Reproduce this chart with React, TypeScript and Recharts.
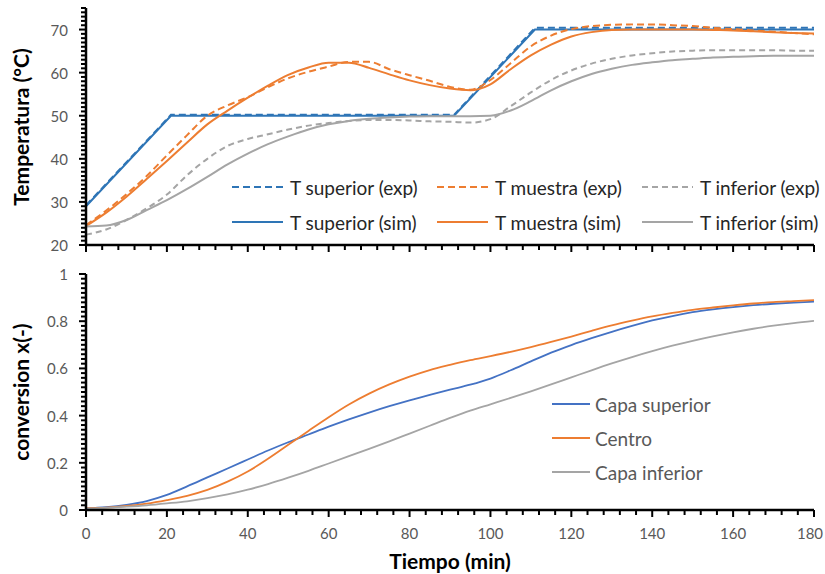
import React from 'react';
import { LineChart, Line, XAxis, YAxis } from 'recharts';

const FONT = 'Lato, "Open Sans", sans-serif';
const BLUE_T = '#2E75B6';
const BLUE_C = '#4472C4';
const ORANGE = '#ED7D31';
const GRAY = '#A5A5A5';

// ---------- data ----------
const timeMin = [0, 5, 10, 15, 20, 25, 30, 35, 40, 45, 50, 55, 60, 65, 70, 75, 80, 85, 90, 95, 100, 105, 110, 115, 120, 125, 130, 135, 140, 145, 150, 155, 160, 165, 170, 175, 180];

const tSupTime = [0, 21, 91, 111, 180];
const tSuperiorExp = [29.2, 50.2, 50.2, 70.4, 70.4];
const tSuperiorSim = [29.0, 50.0, 50.0, 70.0, 70.0];

const tMuestraExp = [24.6, 28.0, 31.8, 36.0, 40.8, 45.5, 50.0, 52.4, 54.3, 56.6, 58.7, 60.2, 61.4, 62.5, 62.5, 60.8, 59.4, 58.1, 56.7, 56.0, 58.3, 62.2, 66.1, 68.6, 70.1, 70.8, 71.1, 71.2, 71.2, 71.0, 70.8, 70.4, 70.1, 69.8, 69.5, 69.2, 68.9];
const tMuestraSim = [24.4, 27.5, 31.2, 35.3, 39.5, 43.8, 48.0, 51.2, 54.2, 57.0, 59.5, 61.2, 62.3, 62.3, 61.1, 59.6, 58.2, 57.1, 56.3, 55.9, 57.3, 60.8, 64.0, 66.5, 68.4, 69.4, 69.9, 70.0, 70.0, 70.0, 70.0, 69.9, 69.8, 69.6, 69.4, 69.2, 69.1];
const tInferiorExp = [22.4, 23.6, 25.8, 28.5, 31.7, 36.2, 40.0, 43.0, 44.6, 45.7, 46.8, 47.7, 48.3, 48.8, 49.0, 49.0, 48.9, 48.7, 48.6, 48.4, 49.2, 52.2, 55.4, 58.3, 60.5, 62.1, 63.2, 64.0, 64.5, 64.9, 65.1, 65.2, 65.2, 65.2, 65.2, 65.1, 65.1];
const tInferiorSim = [24.3, 24.5, 25.8, 28.1, 30.4, 33.0, 35.8, 38.7, 41.2, 43.4, 45.2, 46.8, 48.0, 48.8, 49.3, 49.6, 49.8, 49.9, 49.9, 49.9, 50.0, 51.2, 53.4, 55.9, 58.0, 59.7, 60.9, 61.8, 62.4, 62.9, 63.2, 63.5, 63.7, 63.8, 63.9, 63.9, 63.9];

const convSuperior = [0.007, 0.012, 0.022, 0.038, 0.064, 0.1, 0.138, 0.176, 0.214, 0.252, 0.287, 0.32, 0.353, 0.384, 0.413, 0.44, 0.465, 0.488, 0.51, 0.531, 0.557, 0.592, 0.63, 0.667, 0.699, 0.728, 0.755, 0.78, 0.803, 0.822, 0.838, 0.85, 0.86, 0.868, 0.874, 0.879, 0.883];
const convCentro = [0.007, 0.01, 0.017, 0.027, 0.042, 0.06, 0.085, 0.12, 0.163, 0.217, 0.276, 0.335, 0.393, 0.447, 0.493, 0.532, 0.565, 0.593, 0.615, 0.635, 0.652, 0.67, 0.69, 0.712, 0.735, 0.759, 0.782, 0.802, 0.82, 0.835, 0.848, 0.858, 0.867, 0.875, 0.881, 0.885, 0.889];
const convInferior = [0.005, 0.009, 0.014, 0.02, 0.028, 0.037, 0.05, 0.066, 0.086, 0.11, 0.137, 0.166, 0.197, 0.228, 0.259, 0.291, 0.324, 0.357, 0.39, 0.421, 0.448, 0.475, 0.503, 0.532, 0.562, 0.592, 0.621, 0.648, 0.673, 0.696, 0.717, 0.736, 0.753, 0.768, 0.781, 0.792, 0.801];

const xTickLabels = [0, 20, 40, 60, 80, 100, 120, 140, 160, 180];
const tempTickLabels = [20, 30, 40, 50, 60, 70];
const convTickLabels = [0, 0.2, 0.4, 0.6, 0.8, 1];

// minor tick positions
const xMinorTicks: number[] = [];
for (let i = 0; i <= 45; i++) xMinorTicks.push(i * 4);
const tempMinorTicks: number[] = [];
for (let i = 20; i <= 75; i++) tempMinorTicks.push(i);
const convMinorTicks: number[] = [];
for (let i = 0; i <= 50; i++) convMinorTicks.push(Math.round(i * 2) / 100);

const rows = (ts: number[], vs: number[]) => ts.map((t, i) => ({ t, v: vs[i] }));

const topSeries = [
  { name: 'T superior (exp)', color: BLUE_T, dash: '7 4', data: rows(tSupTime, tSuperiorExp), type: 'linear' },
  { name: 'T superior (sim)', color: BLUE_T, dash: undefined, data: rows(tSupTime, tSuperiorSim), type: 'linear' },
  { name: 'T muestra (exp)', color: ORANGE, dash: '7 4', data: rows(timeMin, tMuestraExp), type: 'monotone' },
  { name: 'T muestra (sim)', color: ORANGE, dash: undefined, data: rows(timeMin, tMuestraSim), type: 'monotone' },
  { name: 'T inferior (exp)', color: GRAY, dash: '6 4', data: rows(timeMin, tInferiorExp), type: 'monotone' },
  { name: 'T inferior (sim)', color: GRAY, dash: undefined, data: rows(timeMin, tInferiorSim), type: 'monotone' },
];

const bottomSeries = [
  { name: 'Capa superior', color: BLUE_C, data: rows(timeMin, convSuperior) },
  { name: 'Centro', color: ORANGE, data: rows(timeMin, convCentro) },
  { name: 'Capa inferior', color: GRAY, data: rows(timeMin, convInferior) },
];

const isIn = (arr: number[], v: number) => arr.some((a) => Math.abs(a - v) < 1e-9);

const makeXTick = (showLabels: boolean) => (props: any) => {
  const { x, y, payload } = props;
  const v = payload.value;
  const major = isIn(xTickLabels, v);
  const last = v === xTickLabels[xTickLabels.length - 1];
  return (
    <g>
      <line x1={x} x2={x} y1={y} y2={y + (major ? 7 : 5)} stroke="#000" strokeWidth={2} />
      {showLabels && major ? (
        <text x={last ? x - 4 : x} y={y + 23} textAnchor="middle" dominantBaseline="central" fill="#595959" fontSize={15} fontFamily={FONT}>
          {v}
        </text>
      ) : null}
    </g>
  );
};

const makeYTick = (labels: number[]) => (props: any) => {
  const { x, y, payload } = props;
  const v = payload.value;
  const major = isIn(labels, v);
  return (
    <g>
      <line x1={x - (major ? 7 : 5)} x2={x} y1={y} y2={y} stroke="#000" strokeWidth={2} />
      {major ? (
        <text x={x - 18} y={y} textAnchor="end" dominantBaseline="central" fill="#595959" fontSize={15} fontFamily={FONT}>
          {String(v)}
        </text>
      ) : null}
    </g>
  );
};

const LegendLine = ({ color, dash, w }: { color: string; dash?: string; w: number }) => (
  <svg width={w} height={10} style={{ display: 'block' }}>
    <line x1={0} x2={w} y1={5} y2={5} stroke={color} strokeWidth={2} strokeDasharray={dash} />
  </svg>
);

export default function App() {
  const topCols = [232, 437, 642];
  const topRows = [187, 222];
  const botRows = [404, 438, 472];
  return (
    <div style={{ position: 'absolute', left: 0, top: 0, width: 825, height: 574, background: '#fff', overflow: 'hidden' }}>
      <div style={{ position: 'absolute', left: 0, top: 0 }}>
        <LineChart width={825} height={260} margin={{ top: 8, right: 11, bottom: 0, left: 0 }}>
          <XAxis
            dataKey="t"
            type="number"
            domain={[0, 180]}
            ticks={xMinorTicks}
            interval={0}
            height={15}
            tickSize={0}
            tickMargin={0}
            tickLine={false}
            axisLine={{ stroke: '#000', strokeWidth: 2.5 }}
            tick={makeXTick(false)}
            allowDataOverflow
          />
          <YAxis
            type="number"
            domain={[20, 75]}
            ticks={tempMinorTicks}
            interval={0}
            width={86}
            tickSize={0}
            tickMargin={0}
            tickLine={false}
            axisLine={{ stroke: '#000', strokeWidth: 2.5 }}
            tick={makeYTick(tempTickLabels)}
            allowDataOverflow
          />
          {topSeries.map((s) => (
            <Line
              key={s.name}
              name={s.name}
              data={s.data}
              dataKey="v"
              type={s.type as any}
              stroke={s.color}
              strokeWidth={2}
              strokeDasharray={s.dash}
              dot={false}
              activeDot={false}
              isAnimationActive={false}
            />
          ))}
        </LineChart>
      </div>
      <div style={{ position: 'absolute', left: 0, top: 260 }}>
        <LineChart width={825} height={314} margin={{ top: 14, right: 11, bottom: 0, left: 0 }}>
          <XAxis
            dataKey="t"
            type="number"
            domain={[0, 180]}
            ticks={xMinorTicks}
            interval={0}
            height={64}
            tickSize={0}
            tickMargin={0}
            tickLine={false}
            axisLine={{ stroke: '#000', strokeWidth: 2.5 }}
            tick={makeXTick(true)}
            allowDataOverflow
          />
          <YAxis
            type="number"
            domain={[0, 1]}
            ticks={convMinorTicks}
            interval={0}
            width={86}
            tickSize={0}
            tickMargin={0}
            tickLine={false}
            axisLine={{ stroke: '#000', strokeWidth: 2.5 }}
            tick={makeYTick(convTickLabels)}
            allowDataOverflow
          />
          {bottomSeries.map((s) => (
            <Line
              key={s.name}
              name={s.name}
              data={s.data}
              dataKey="v"
              type="monotone"
              stroke={s.color}
              strokeWidth={1.8}
              dot={false}
              activeDot={false}
              isAnimationActive={false}
            />
          ))}
        </LineChart>
      </div>
      {/* axis titles */}
      <svg width={825} height={574} style={{ position: 'absolute', left: 0, top: 0, pointerEvents: 'none' }}>
        <text x={20} y={127} transform="rotate(-90, 20, 127)" textAnchor="middle" dominantBaseline="central" fontFamily={FONT} fontWeight="bold" fontSize={21} fill="#000">
          Temperatura (°C)
        </text>
        <text x={20} y={392} transform="rotate(-90, 20, 392)" textAnchor="middle" dominantBaseline="central" fontFamily={FONT} fontWeight="bold" fontSize={21} fill="#000">
          conversion x(-)
        </text>
        <text x={450} y={560} textAnchor="middle" dominantBaseline="central" fontFamily={FONT} fontWeight="bold" fontSize={21} fill="#000">
          Tiempo (min)
        </text>
      </svg>
      {/* legends */}
      {topSeries.map((s, i) => {
        const c = Math.floor(i / 2);
        const r = i % 2;
        return (
          <div key={s.name} style={{ position: 'absolute', left: topCols[c], top: topRows[r] - 12, height: 24, display: 'flex', alignItems: 'center', fontFamily: FONT, fontSize: 19, color: '#262626', whiteSpace: 'nowrap' }}>
            <LegendLine color={s.color} dash={s.dash} w={51} />
            <span style={{ marginLeft: 7 }}>{s.name}</span>
          </div>
        );
      })}
      {bottomSeries.map((s, i) => (
        <div key={s.name} style={{ position: 'absolute', left: 552, top: botRows[i] - 12, height: 24, display: 'flex', alignItems: 'center', fontFamily: FONT, fontSize: 19, color: '#595959', whiteSpace: 'nowrap' }}>
          <LegendLine color={s.color} w={38} />
          <span style={{ marginLeft: 5 }}>{s.name}</span>
        </div>
      ))}
    </div>
  );
}
